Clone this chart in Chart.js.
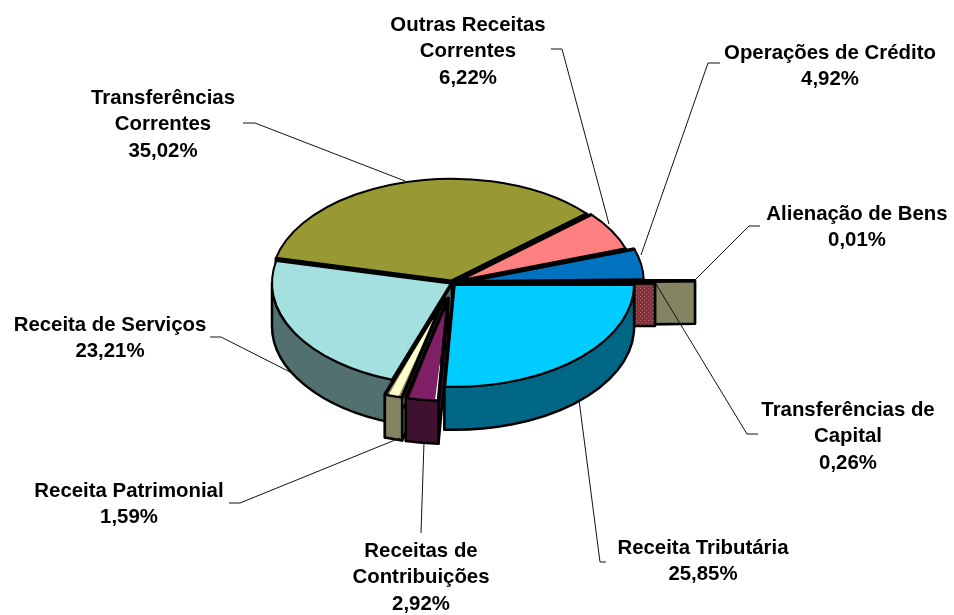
<!DOCTYPE html>
<html>
<head>
<meta charset="utf-8">
<style>
html, body { margin: 0; padding: 0; background: #fff; }
#wrap { width: 954px; height: 615px; }
</style>
<script src="https://cdn.jsdelivr.net/npm/chart.js@4/dist/chart.umd.min.js"></script>
</head>
<body>
<div id="wrap"><canvas id="myChart"></canvas></div>
<script>
// Data, clockwise from the east side of the pie
var categoryLines = [
    ['Receita Tributária'],
    ['Receitas de', 'Contribuições'],
    ['Receita Patrimonial'],
    ['Receita de Serviços'],
    ['Transferências', 'Correntes'],
    ['Outras Receitas', 'Correntes'],
    ['Operações de Crédito'],
    ['Alienação de Bens'],
    ['Transferências de', 'Capital']
];
var values = [25.85, 2.92, 1.59, 23.21, 35.02, 6.22, 4.92, 0.01, 0.26];

// Styles
var topColors = ['#00ccff', '#7f1f66', '#ffffcc', '#a4e0e0', '#999933', '#ff8080', '#0072c0', '#ffffcc', '#993333'];
var sideColors = ['#006685', '#40102f', '#848462', '#527070', '#4d4d1a', '#804040', '#003960', '#848462', 'hatch'];
var explode = [3, 27, 27, 0, 3, 4, 12, 63, 23]; // px
var squash = 0.57;
var depth = 43;

// Label placement: x centre, first line y, leader polyline
var labelBoxes = [
    { x: 703, y: 548, leader: [[606, 562], [600, 562], [579, 400]] },
    { x: 421, y: 551, leader: [[421, 533], [424, 442]] },
    { x: 129, y: 491, leader: [[229, 503], [240, 503], [400, 438]] },
    { x: 110, y: 325, leader: [[210, 337], [221, 337], [294, 374]] },
    { x: 163, y: 98, leader: [[243, 123], [255, 123], [405, 181]] },
    { x: 468, y: 25, leader: [[551, 49], [562, 49], [609, 224]] },
    { x: 830, y: 53, leader: [[720, 63], [708, 63], [641, 255]] },
    { x: 857, y: 214, leader: [[760, 226], [749, 226], [695, 280]] },
    { x: 848, y: 410, leader: [[758, 434], [747, 434], [656, 284]] }
];

function hatchPattern(ctx) {
    var c = document.createElement('canvas');
    c.width = 4; c.height = 4;
    var p = c.getContext('2d');
    p.fillStyle = '#8a2f3a';
    p.fillRect(0, 0, 4, 4);
    p.fillStyle = '#a86a6a';
    p.fillRect(0, 0, 1, 1);
    p.fillRect(2, 2, 1, 1);
    return ctx.createPattern(c, 'repeat');
}

// Where a slice really sits once squashed and exploded
function sliceGeom(el) {
    var circ = el.endAngle - el.startAngle;
    var off = (el.options.offset || 0) / 4;
    var fix = 1 - Math.sin(Math.min(Math.PI, circ));
    var mid = (el.startAngle + el.endAngle) / 2;
    return {
        cx: el.x + Math.cos(mid) * off,
        cy: el.y + Math.sin(mid) * off * squash,
        r: el.outerRadius + off * fix,
        start: el.startAngle,
        end: el.endAngle,
        mid: mid
    };
}

function pointOn(g, a) {
    return [g.cx + Math.cos(a) * g.r, g.cy + Math.sin(a) * g.r * squash];
}

function drawWall(ctx, g, a, fill) {
    var o = pointOn(g, a);
    ctx.beginPath();
    ctx.moveTo(g.cx, g.cy);
    ctx.lineTo(o[0], o[1]);
    ctx.lineTo(o[0], o[1] + depth);
    ctx.lineTo(g.cx, g.cy + depth);
    ctx.closePath();
    ctx.fillStyle = fill;
    ctx.fill();
    ctx.stroke();
}

function drawRim(ctx, g, fill) {
    var a0 = Math.max(g.start, 0);
    var a1 = Math.min(g.end, Math.PI);
    if (a1 <= a0) return;
    ctx.beginPath();
    ctx.ellipse(g.cx, g.cy, g.r, g.r * squash, 0, a0, a1);
    ctx.ellipse(g.cx, g.cy + depth, g.r, g.r * squash, 0, a1, a0, true);
    ctx.closePath();
    ctx.fillStyle = fill;
    ctx.fill();
    ctx.stroke();
}

var pie3d = {
    id: 'pie3d',
    afterDatasetsUpdate: function (chart) {
        // the arc grows thin slices by their offset, keep all radii equal
        chart.getDatasetMeta(0).data.forEach(function (el) {
            var circ = el.endAngle - el.startAngle;
            var off = (el.options.offset || 0) / 4;
            el.outerRadius -= off * (1 - Math.sin(Math.min(Math.PI, circ)));
        });
    },
    beforeDatasetsDraw: function (chart) {
        var ctx = chart.ctx;
        var arcs = chart.getDatasetMeta(0).data;
        var hatch = hatchPattern(ctx);
        var order = arcs.map(function (el, i) { return i; });
        order.sort(function (a, b) {
            return Math.sin(sliceGeom(arcs[a]).mid) - Math.sin(sliceGeom(arcs[b]).mid);
        });
        ctx.save();
        ctx.strokeStyle = '#000';
        ctx.lineWidth = 2.5;
        ctx.lineJoin = 'round';
        order.forEach(function (i) {
            var g = sliceGeom(arcs[i]);
            var fill = sideColors[i] === 'hatch' ? hatch : sideColors[i];
            drawWall(ctx, g, g.start, fill);
            drawWall(ctx, g, g.end, fill);
            drawRim(ctx, g, fill);
        });
        ctx.restore();
        // tops are drawn by the library, squashed
        ctx.save();
        ctx.translate(0, arcs[0].y);
        ctx.scale(1, squash);
        ctx.translate(0, -arcs[0].y);
    },
    afterDatasetsDraw: function (chart) {
        var ctx = chart.ctx;
        ctx.restore();
        var arcs = chart.getDatasetMeta(0).data;
        ctx.save();
        ctx.strokeStyle = '#000';
        ctx.lineJoin = 'round';
        arcs.forEach(function (el) {
            var g = sliceGeom(el);
            var s = pointOn(g, g.start);
            var e = pointOn(g, g.end);
            ctx.lineWidth = 2;
            ctx.beginPath();
            ctx.ellipse(g.cx, g.cy, g.r, g.r * squash, 0, g.start, g.end);
            ctx.stroke();
            ctx.lineWidth = 3.5;
            ctx.beginPath();
            ctx.moveTo(s[0], s[1]);
            ctx.lineTo(g.cx, g.cy);
            ctx.lineTo(e[0], e[1]);
            ctx.stroke();
        });
        ctx.restore();

        // leaders and labels
        ctx.save();
        ctx.strokeStyle = '#111';
        ctx.lineWidth = 1;
        ctx.fillStyle = '#000';
        ctx.font = 'bold 20.4px "Liberation Sans", Arial, sans-serif';
        ctx.textAlign = 'center';
        ctx.textBaseline = 'middle';
        labelBoxes.forEach(function (box, i) {
            ctx.beginPath();
            box.leader.forEach(function (p, j) {
                if (j === 0) ctx.moveTo(p[0], p[1]); else ctx.lineTo(p[0], p[1]);
            });
            ctx.stroke();
            var lines = categoryLines[i].concat(values[i].toFixed(2).replace('.', ',') + '%');
            lines.forEach(function (t, j) {
                ctx.fillText(t, box.x, box.y + j * 26.5);
            });
        });
        ctx.restore();
    }
};

var ctx = document.getElementById('myChart').getContext('2d');
var myChart = new Chart(ctx, {
    type: 'pie',
    data: {
        labels: categoryLines.map(function (l) { return l.join(' '); }),
        datasets: [{
            data: values,
            backgroundColor: topColors,
            borderWidth: 0,
            radius: 180,
            clip: false,
            offset: explode.map(function (d) { return d * 4; })
        }]
    },
    options: {
        responsive: true,
        maintainAspectRatio: false,
        animation: false,
        rotation: 90,
        layout: { padding: { right: 50, bottom: 49 } },
        plugins: { legend: { display: false }, tooltip: { enabled: false } },
        events: []
    },
    plugins: [pie3d]
});
</script>
</body>
</html>
